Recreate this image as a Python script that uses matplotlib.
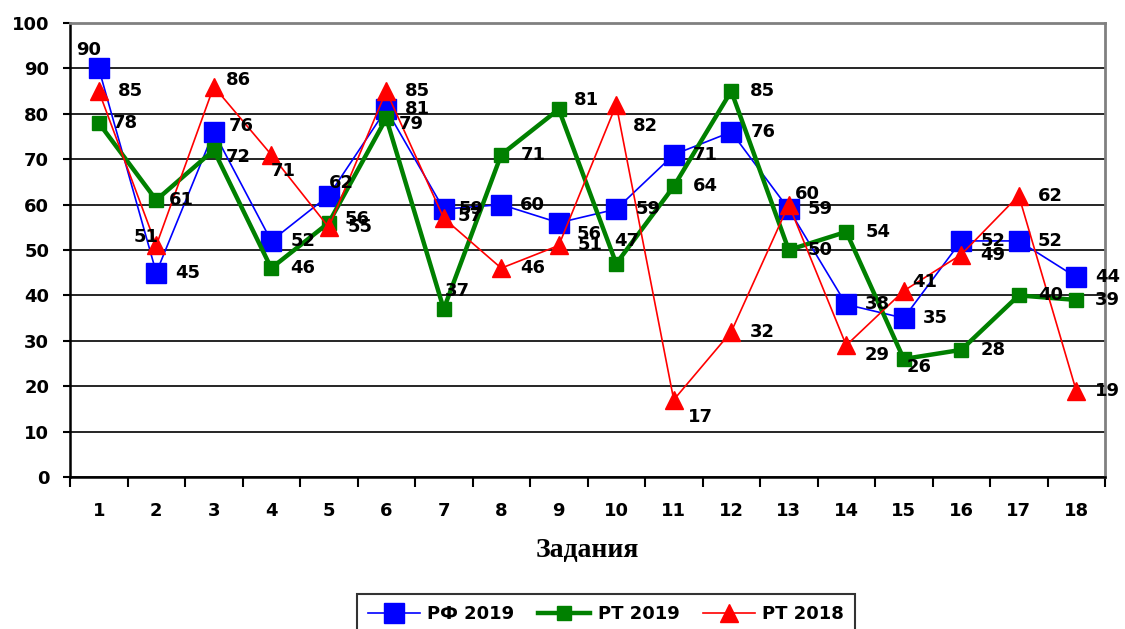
import matplotlib
matplotlib.use("Agg")
import matplotlib.pyplot as plt
from matplotlib.ticker import FixedLocator

tasks = list(range(1, 19))
rf2019 = [90, 45, 76, 52, 62, 81, 59, 60, 56, 59, 71, 76, 59, 38, 35, 52, 52, 44]
rt2019 = [78, 61, 72, 46, 56, 79, 37, 71, 81, 47, 64, 85, 50, 54, 26, 28, 40, 39]
rt2018 = [85, 51, 86, 71, 55, 85, 57, 46, 51, 82, 17, 32, 60, 29, 41, 49, 62, 19]
series_names = ["РФ 2019", "РТ 2019", "РТ 2018"]

# label offsets in pixels (dx, dy with dy positive = down), default (19, 0)
off_rf = {1: (-23, -18), 3: (15, -6), 5: (0, -13), 7: (15, 0), 9: (18, 11)}
off_g = {1: (14, 0), 2: (13, 0), 3: (12, 7), 5: (16, -4), 6: (13, 6), 7: (1, -18),
         9: (15, -9), 10: (-2, -23), 15: (3, 8)}
off_r = {2: (-23, -8), 3: (12, -7), 4: (0, 16), 7: (14, -2), 10: (17, 21),
         11: (14, 17), 13: (6, -11), 14: (18, 10), 15: (8, -9)}

W, H, DPI = 1125, 629, 100
fig = plt.figure(figsize=(W / DPI, H / DPI), dpi=DPI)
ax = fig.add_axes([70 / W, 1 - 477 / H, (1105 - 70) / W, (477 - 23) / H])

l1, = ax.plot(tasks, rf2019, color="#0000FF", lw=1.2, marker="s", ms=14,
              mfc="#0000FF", mec="#0000FF", zorder=3, label=series_names[0])
l2, = ax.plot(tasks, rt2019, color="#008000", lw=3.2, marker="s", ms=9.5,
              mfc="#008000", mec="#008000", zorder=4, label=series_names[1])
l3, = ax.plot(tasks, rt2018, color="#FF0000", lw=1.2, marker="^", ms=13,
              mfc="#FF0000", mec="#FF0000", zorder=5, label=series_names[2])

font_lbl = dict(fontsize=13, fontweight="bold", color="black", family="DejaVu Sans")
for vals, offs in ((rf2019, off_rf), (rt2019, off_g), (rt2018, off_r)):
    for x, v in zip(tasks, vals):
        dx, dy = offs.get(x, (19, 0))
        ax.annotate(str(v), (x, v), xytext=(dx * 0.72, -dy * 0.72),
                    textcoords="offset points", ha="left", va="center",
                    zorder=6, **font_lbl)

ax.set_xlim(0.5, 18.5)
ax.set_ylim(0, 100)
ax.set_yticks(range(0, 101, 10))
ax.set_yticklabels([str(v) for v in range(0, 101, 10)], fontsize=13,
                   fontweight="bold", family="DejaVu Sans")
ax.set_xticks(tasks)
ax.set_xticklabels([str(t) for t in tasks], fontsize=13, fontweight="bold",
                   family="DejaVu Sans")
ax.xaxis.set_minor_locator(FixedLocator([t + 0.5 for t in range(0, 19)]))
ax.tick_params(axis="x", which="major", length=0, pad=18)
ax.tick_params(axis="x", which="minor", length=7, width=1.5, color="black")
ax.tick_params(axis="y", which="major", length=5, width=1.5, color="black", pad=10)

ax.grid(axis="y", color="black", lw=1.2, zorder=1)
ax.set_axisbelow(True)
for s in ("left", "bottom"):
    ax.spines[s].set_color("black")
    ax.spines[s].set_linewidth(1.8)
for s in ("top", "right"):
    ax.spines[s].set_color("#808080")
    ax.spines[s].set_linewidth(2)

fig.text(587 / W, 1 - 551 / H, "Задания", ha="center", va="center",
         fontsize=20, fontweight="bold", family="Liberation Serif")

leg = fig.legend(handles=[l1, l2, l3], loc="upper center",
                 bbox_to_anchor=(606 / W, 1 - 585 / H), ncol=3,
                 prop=dict(size=13, weight="bold", family="DejaVu Sans"),
                 frameon=True, fancybox=False, edgecolor="black",
                 handlelength=2.9, columnspacing=1.3, handletextpad=0.4,
                 borderpad=0.6, markerscale=1.0)
leg.get_frame().set_linewidth(1.5)

fig.savefig("out.png", dpi=DPI, facecolor="white")
